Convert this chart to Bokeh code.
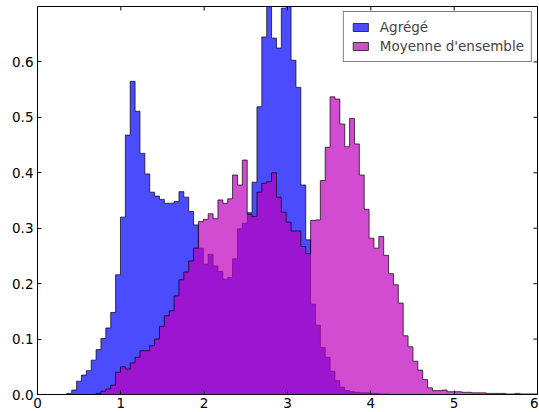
import numpy as np
from bokeh.plotting import figure
from bokeh.models import FixedTicker, Range1d
from bokeh.embed import file_html
from bokeh.resources import INLINE

# ---- data ----
bin_start = 0.352
bin_width = 0.0585

agrege = [
    0.002, 0.008, 0.024, 0.035, 0.043, 0.062, 0.081, 0.101, 0.120, 0.148,
    0.216, 0.320, 0.468, 0.565, 0.511, 0.435, 0.398, 0.365, 0.358, 0.352,
    0.345, 0.345, 0.348, 0.366, 0.356, 0.330, 0.306, 0.264, 0.235, 0.253,
    0.232, 0.222, 0.208, 0.211, 0.245, 0.299, 0.309, 0.328, 0.383, 0.519,
    0.645, 0.735, 0.643, 0.625, 0.697, 0.720, 0.603, 0.554, 0.378, 0.279,
    0.163, 0.125, 0.085, 0.067, 0.042, 0.025, 0.013, 0.007, 0.005, 0.004,
    0.003, 0.003, 0.002, 0.002, 0.001, 0.001, 0.0, 0.0, 0.0, 0.0,
    0.0, 0.0, 0.0, 0.0, 0.0, 0.0, 0.0, 0.0, 0.0, 0.0,
    0.0, 0.0, 0.0, 0.0, 0.0, 0.0, 0.0, 0.0, 0.0, 0.0,
    0.0, 0.0, 0.0, 0.0, 0.0, 0.0, 0.0,
]

moyenne = [
    0.0, 0.0, 0.0, 0.0, 0.0, 0.0, 0.002, 0.006, 0.010, 0.017,
    0.040, 0.050, 0.046, 0.057, 0.067, 0.079, 0.079, 0.088, 0.100, 0.123,
    0.142, 0.151, 0.178, 0.207, 0.221, 0.241, 0.264, 0.312, 0.316, 0.326,
    0.317, 0.351, 0.345, 0.353, 0.396, 0.378, 0.423, 0.325, 0.321, 0.365,
    0.381, 0.384, 0.400, 0.356, 0.329, 0.311, 0.295, 0.295, 0.267, 0.254,
    0.314, 0.315, 0.386, 0.446, 0.537, 0.533, 0.488, 0.447, 0.498, 0.452,
    0.396, 0.334, 0.282, 0.264, 0.285, 0.251, 0.218, 0.198, 0.165, 0.106,
    0.086, 0.060, 0.044, 0.027, 0.012, 0.007, 0.007, 0.008, 0.005, 0.005,
    0.005, 0.004, 0.004, 0.003, 0.003, 0.003, 0.002, 0.002, 0.002, 0.002,
    0.001, 0.001, 0.002, 0.001, 0.001, 0.001, 0.001,
]

series_labels = ["Agrégé", "Moyenne d'ensemble"]
series_colors = ["#0000ff", "#bf00bf"]

x_ticks = [0, 1, 2, 3, 4, 5, 6]
x_tick_labels = ["0", "1", "2", "3", "4", "5", "6"]
y_ticks = [0.0, 0.1, 0.2, 0.3, 0.4, 0.5, 0.6]
y_tick_labels = ["0.0", "0.1", "0.2", "0.3", "0.4", "0.5", "0.6"]

FONT = "DejaVu Sans"
FS = "13.5px"


def step_polygon(heights):
    h = np.asarray(heights, dtype=float)
    edges = bin_start + bin_width * np.arange(len(h) + 1)
    xs = np.repeat(edges, 2)
    ys = np.concatenate([[0.0], np.repeat(h, 2), [0.0]])
    return xs, ys


xr = Range1d(0, 6)
yr = Range1d(0, 0.7)
p = figure(width=538, height=411, output_backend="svg", toolbar_location=None,
           x_range=xr, y_range=yr,
           min_border_left=37, min_border_right=1, min_border_top=6,
           min_border_bottom=17)

p.xgrid.visible = False
p.ygrid.visible = False
p.outline_line_color = "black"
p.outline_line_width = 1
p.background_fill_color = "white"
p.border_fill_color = "white"

for heights, lab, col in zip([agrege, moyenne], series_labels, series_colors):
    xs, ys = step_polygon(heights)
    p.patch(xs, ys, fill_color=col, fill_alpha=0.7, line_color="black",
            line_alpha=0.7, line_width=1, legend_label=lab)

# main axes styling (ticks pointing inward)
for ax, ticks, labels in [(p.xaxis[0], x_ticks, x_tick_labels),
                          (p.yaxis[0], y_ticks, y_tick_labels)]:
    ax.ticker = FixedTicker(ticks=ticks)
    ax.major_label_overrides = {t: l for t, l in zip(ticks, labels)}
    ax.major_tick_in = 4
    ax.major_tick_out = 0
    ax.minor_tick_line_color = None
    ax.axis_line_color = None
    ax.major_tick_line_color = "black"
    ax.major_label_text_font = FONT
    ax.major_label_text_font_size = FS
    ax.major_label_text_color = "black"
p.xaxis[0].major_label_standoff = 3
p.yaxis[0].major_label_standoff = 4

# mirrored inward ticks on top and right edges (clipped to the frame)
p.scatter(x=x_ticks, y=[yr.end] * len(x_ticks), marker="dash", angle=np.pi / 2,
          size=8, line_color="black", line_width=1)
p.scatter(x=[xr.end] * len(y_ticks), y=y_ticks, marker="dash",
          size=8, line_color="black", line_width=1)

lg = p.legend[0]
lg.location = "top_right"
lg.margin = 5
lg.padding = 7
lg.spacing = 3
lg.label_text_font = FONT
lg.label_text_font_size = FS
lg.label_standoff = 10
lg.glyph_width = 19
lg.glyph_height = 10
lg.label_height = 16
lg.border_line_color = "black"
lg.border_line_width = 1
lg.background_fill_color = "white"
lg.background_fill_alpha = 1.0

open("out.html", "w").write(file_html(p, INLINE))
